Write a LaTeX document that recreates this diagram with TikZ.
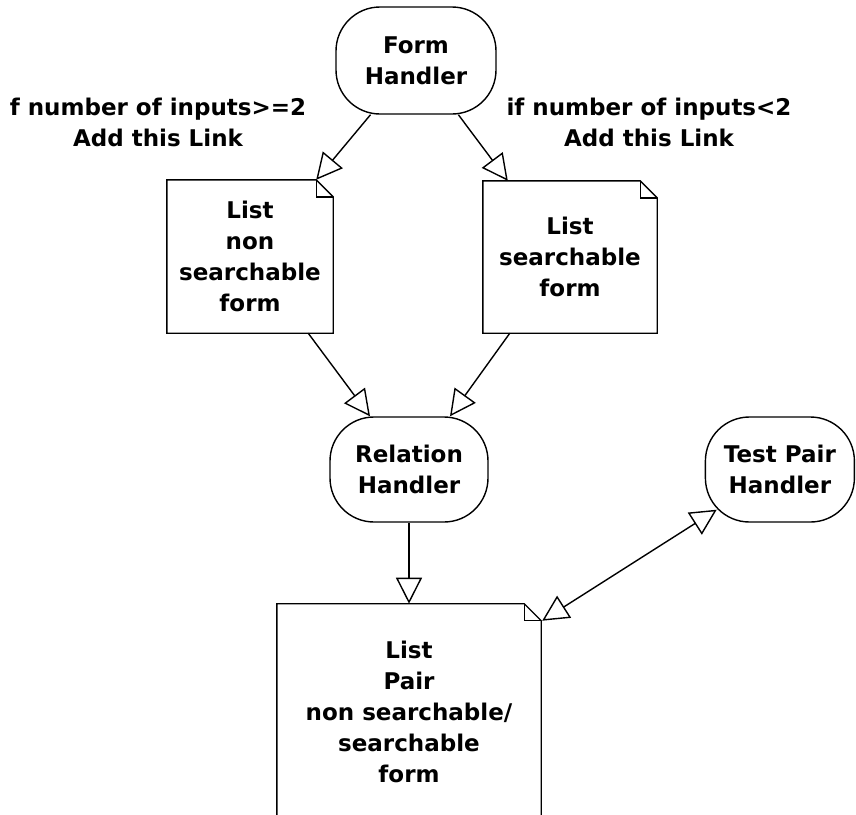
\documentclass[tikz,border=0pt]{standalone}
\usepackage{fontspec}
\setmainfont{DejaVu Sans}
\usetikzlibrary{positioning,arrows.meta,calc}
\newcommand{\labelfont}{\fontsize{23}{31}\selectfont\bfseries}
\tikzset{
  flow/.style={-{Triangle[open,length=26pt,width=26pt]},line width=1.4pt,draw=black},
  bothflow/.style={{Triangle[open,length=26pt,width=26pt]}-{Triangle[open,length=26pt,width=26pt]},
    line width=1.4pt,draw=black},
  handler/.style={draw,line width=1.4pt,rounded corners=44pt,align=center,
    font=\labelfont,inner sep=0pt},
  notebox/.style={align=center,font=\labelfont,inner sep=0pt},
  cond/.style={align=center,font=\labelfont,inner sep=0pt},
  outline/.style={line width=1.4pt,line join=miter}
}
% note outline with a dog-ear in the upper right corner
\newcommand{\foldbox}[2]{%
  \draw[outline] (#1.south west) -- (#1.north west) -- ($(#1.north east)+(-#2,0)$)
    -- ($(#1.north east)+(0,#2)$) -- (#1.south east) -- cycle;
  \draw[outline] ($(#1.north east)+(-#2,0)$) -- ($(#1.north east)+(-#2,#2)$)
    -- ($(#1.north east)+(0,#2)$);
}
\begin{document}
\begin{tikzpicture}[x=1pt,y=-1pt]
  \useasboundingbox (0,0) rectangle (856,814);
  \node[handler,minimum width=160pt,minimum height=107pt] (form) at (416,60.5) {Form\\Handler};
  \node[notebox,minimum width=166pt,minimum height=153pt] (nonsearch) at (250,256.5)
    {List\\non\\searchable\\form};
  \node[notebox,minimum width=174pt,minimum height=152pt] (search) at (570,257)
    {List\\searchable\\form};
  \node[handler,minimum width=158pt,minimum height=105pt] (relation) at (409,469.5)
    {Relation\\Handler};
  \node[handler,minimum width=149pt,minimum height=105pt,right=216pt of relation] (testpair)
    {Test Pair\\Handler};
  \node[notebox,minimum width=264pt,minimum height=216pt,below=81pt of relation] (pairlist)
    {List\\Pair\\non searchable/\\searchable\\form};
  \node[cond] (condmany) at (158,122) {f number of inputs>=2\\Add this Link};
  \node[cond] (condfew) at (649,122) {if number of inputs<2\\Add this Link};

  \foldbox{nonsearch}{17}
  \foldbox{search}{17}
  \foldbox{pairlist}{17}

  \draw[flow] (form.230) -- ($(nonsearch.north east)+(-17,0)$);
  \draw[flow] (form.308) -- ($(search.north west)+(25,0)$);
  \draw[flow] ($(nonsearch.south east)+(-25,0)$) -- ($(relation.north)+(-39,0)$);
  \draw[flow] ($(search.south west)+(27,0)$) -- ($(relation.north)+(41,0)$);
  \draw[flow] (relation.south) -- (relation.south |- pairlist.north);
  \draw[bothflow] ($(pairlist.north east)+(1,17)$) -- ($(testpair.south west)+(12,-13)$);
\end{tikzpicture}
\end{document}
